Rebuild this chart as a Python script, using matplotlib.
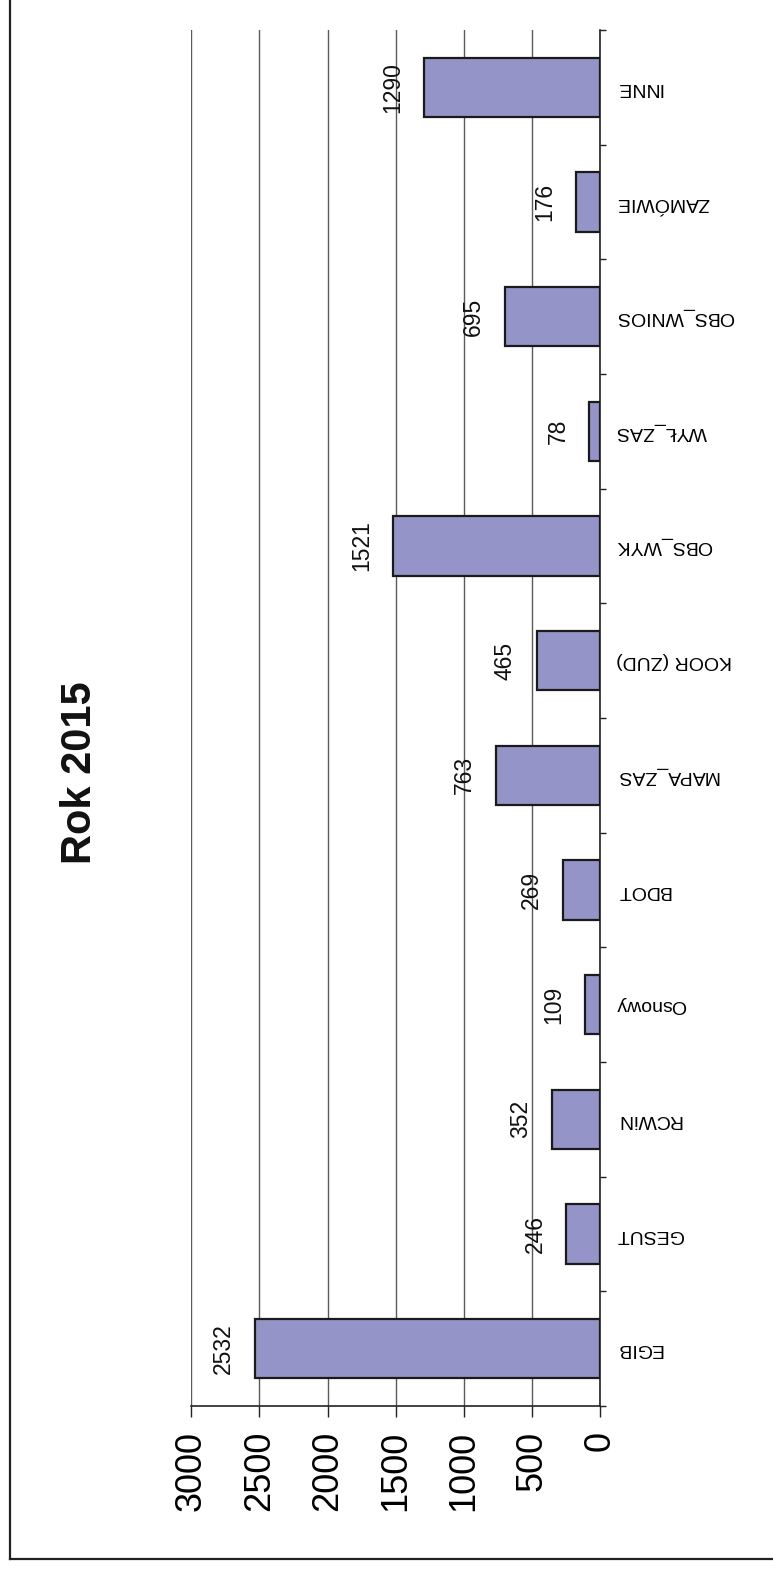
import matplotlib
matplotlib.use("Agg")
import matplotlib.pyplot as plt
from matplotlib.lines import Line2D

plt.rcParams['font.family'] = ['Liberation Sans', 'DejaVu Sans']
narrow = ['Liberation Sans Narrow', 'Liberation Sans', 'DejaVu Sans']

# data (EGIB first = bottom of the rotated chart)
categories = ['EGIB', 'GESUT', 'RCWiN', 'Osnowy', 'BDOT', 'MAPA_ZAS', 'KOOR (ZUD)',
              'OBS_WYK', 'WYŁ_ZAS', 'OBS_WNIOS', 'ZAMÓWIE', 'INNE']
values = [2532, 246, 352, 109, 269, 763, 465, 1521, 78, 695, 176, 1290]
value_ticks = [0, 500, 1000, 1500, 2000, 2500, 3000]
title = "Rok 2015"

W, H = 773, 1570
fig = plt.figure(figsize=(W / 100, H / 100), dpi=100)
ax = fig.add_axes([191.4 / W, 1 - 1406 / H, (600 - 191.4) / W, (1406 - 30) / H])

pos = list(range(len(categories)))
ax.barh(pos, values, height=0.52, color='#9494c8', edgecolor='#1a1a1a',
        linewidth=1.6, zorder=3)

ax.set_xlim(3000, 0)
ax.set_ylim(-0.5, len(categories) - 0.5)

# gridlines
ax.set_xticks(value_ticks)
ax.xaxis.grid(True, color='#5a5a5a', linewidth=1.0, zorder=0)
ax.set_axisbelow(True)

# value labels next to bar ends
for p, v in zip(pos, values):
    ax.annotate(str(v), xy=(v, p), xytext=(-14.4, 0), textcoords='offset points',
                ha='right', va='center', rotation=90, fontsize=16.5,
                family=narrow, color='#111111')

# value axis (bottom)
ax.set_xticklabels([str(t) for t in value_ticks], rotation=90, fontsize=26,
                   family=narrow)
ax.tick_params(axis='x', direction='out', length=8, width=1, color='#222222', pad=10)

# category axis (right side)
ax.yaxis.tick_right()
ax.set_yticks(pos)
ax.set_yticklabels(categories, fontsize=14, rotation=180, va='center', ha='left')
ax.set_yticks([p - 0.5 for p in pos] + [len(categories) - 0.5], minor=True)
ax.tick_params(axis='y', which='major', length=0, pad=11.5)
ax.tick_params(axis='y', which='minor', direction='out', length=4.5, width=1,
               color='#222222', right=True, left=False)

for s in ['top', 'left']:
    ax.spines[s].set_visible(False)
ax.spines['right'].set_color('#222222')
ax.spines['bottom'].set_color('#222222')
ax.spines['right'].set_linewidth(1.2)
ax.spines['bottom'].set_linewidth(1.2)

fig.text(80 / W, 1 - 773 / H, title, rotation=90, fontsize=30, fontweight='bold',
         ha='center', va='center', color='#111111')

# outer frame (only left and bottom edges are visible)
fig.add_artist(Line2D([10 / W, 10 / W], [1 - 1559 / H, 1], color='#222222',
                      linewidth=1.6, transform=fig.transFigure))
fig.add_artist(Line2D([10 / W, 1], [1 - 1559 / H, 1 - 1559 / H], color='#222222',
                      linewidth=1.6, transform=fig.transFigure))

fig.savefig("out.png", dpi=100)
